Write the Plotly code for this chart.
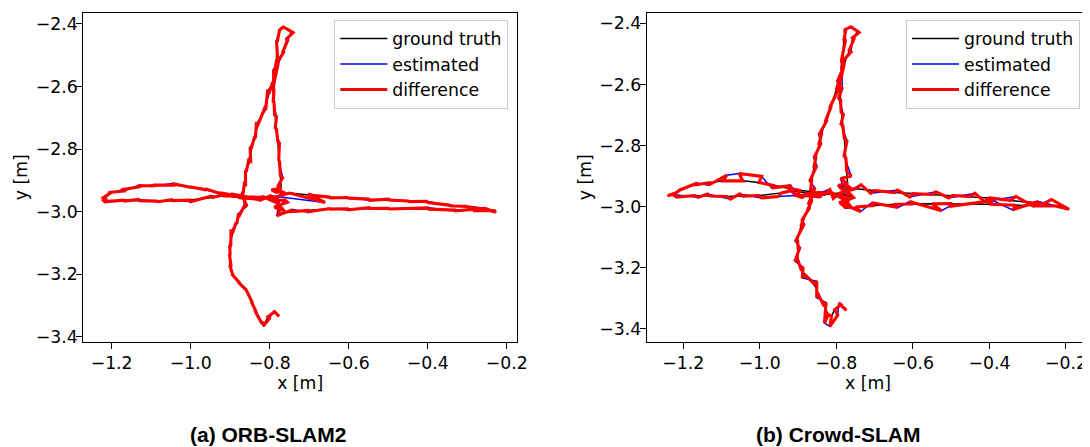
import plotly.graph_objects as go

# Ground-truth trajectory (shared by both runs), metres
GT_X = [
    -0.7793, -0.7876, -0.8045, -0.8129, -0.8212, -0.8338, -0.8465, -0.8591, -0.8803, -0.8929,
    -0.9013, -0.9000, -0.9013, -0.8929, -0.8850, -0.8760, -0.8634, -0.8677, -0.8640, -0.8591,
    -0.8530, -0.8465, -0.8380, -0.8298, -0.8129, -0.8003, -0.7919, -0.7870, -0.7833, -0.7808,
    -0.7750, -0.7624, -0.7455, -0.7540, -0.7667, -0.7793, -0.7919, -0.7890, -0.7876, -0.7830,
    -0.7793, -0.7750, -0.7730, -0.7707,
    -0.7950, -0.7600, -0.7900, -0.7550, -0.7880, -0.7620, -0.7820,
    -0.8150, -0.8508, -0.8929,
    -0.9265, -0.9601, -1.0023, -1.0444, -1.0949, -1.1285, -1.1707, -1.2043, -1.2212, -1.2169,
    -1.1707, -1.1300, -1.0864, -1.0450, -1.0023, -0.9434, -0.9182, -0.8760, -0.8300, -0.7900,
    -0.7497, -0.7000, -0.6487, -0.6000, -0.5500, -0.4972, -0.4500, -0.4000, -0.3457, -0.3000,
    -0.2600, -0.2278, -0.2800, -0.3288, -0.4000, -0.4972, -0.5500, -0.6000, -0.6487, -0.7000,
    -0.7497, -0.7750, -0.7800,
]
GT_Y = [
    -3.3312, -3.3206, -3.3366, -3.3578, -3.3526, -3.3206, -3.2886, -3.2512, -3.2246, -3.2032,
    -3.1712, -3.1400, -3.1072, -3.0646, -3.0350, -3.0112, -2.9792, -2.9472, -2.9100, -2.8726,
    -2.8350, -2.7978, -2.7600, -2.7232, -2.6698, -2.6166, -2.5846, -2.5500, -2.5206, -2.4566,
    -2.4192, -2.4118, -2.4246, -2.4512, -2.4886, -2.5312, -2.6058, -2.6500, -2.6912, -2.7350,
    -2.7766, -2.8406, -2.8850, -2.9258,
    -2.9300, -2.9420, -2.9560, -2.9700, -2.9850, -3.0000, -2.9700,
    -2.9560, -2.9526, -2.9472,
    -2.9398, -2.9312, -2.9206, -2.9152, -2.9152, -2.9206, -2.9290, -2.9418, -2.9560, -2.9686,
    -2.9632, -2.9650, -2.9664, -2.9650, -2.9632, -2.9546, -2.9472, -2.9560, -2.9600, -2.9550,
    -2.9408, -2.9470, -2.9536, -2.9570, -2.9600, -2.9632, -2.9660, -2.9710, -2.9792, -2.9850,
    -2.9920, -2.9974, -2.9970, -2.9952, -2.9920, -2.9898, -2.9900, -2.9910, -2.9920, -2.9960,
    -3.0006, -3.0048, -2.9700,
]

# Position error of the estimate at each pose, millimetres
ORB_DX_MM = [
    3, -2, 4, -3, 2, -4, 3, -2, 5, -3,
    4, -2, 3, -5, 2, -3, 6, -4, 3, -2,
    5, -3, 2, -4, 3, -5, 2, -3, 4, -2,
    3, -4, 5, -3, 2, -4, 3, -2, 5, -3,
    4, -2, 6, -8,
    10, -9, 7, -6, 8, -7, 6,
    -4, 3, -5,
    2, -3, 4, -2, 3, -4, 2, -3, 5, -4,
    3, -2, 4, -3, 2, -5, 3, -4, 6, -8,
    90, -3, 2, -4, 3, -2, 4, -3, 5, -2,
    4, -3, 2, -4, 3, -2, 4, -3, 2, -6,
    8, -7, 5,
]
ORB_DY_MM = [
    -4, 3, -5, -8, -6, 4, -3, 5, -4, 3,
    -5, 4, -3, 2, -4, 5, -3, 4, -2, 5,
    -3, 4, -5, 3, -4, 2, -3, 5, -2, 4,
    3, 2, -3, 4, -2, 3, -4, 2, -5, 3,
    -4, 5, -7, 9,
    -8, 6, -9, 7, -6, 8, -5,
    5, -3, 4,
    -3, 4, -2, 5, -3, 4, -5, 3, -4, 5,
    -3, 4, -2, 3, -5, 4, -3, 5, -4, 6,
    -30, 4, -3, 2, -4, 3, -2, 4, -3, 2,
    3, -4, 5, -3, 4, -2, 3, -4, 2, -5,
    7, -9, 6,
]
CROWD_DX_MM = [
    5, -6, 8, -4, -10, 7, -5, 8, -9, 6,
    -7, 5, -6, 9, -6, 7, -10, 12, -6, 8,
    -6, 7, -8, 6, -5, 8, -6, 5, -4, 5,
    -5, 3, 5, -4, 5, -6, 7, -5, 6, -5,
    7, -5, 12, -18,
    16, -15, 18, -14, 15, -16, 12,
    -9, 10, -12,
    8, -9, 7, -10, 8, -6, 7, -9, -20, -12,
    9, -7, 10, -8, 7, -9, 12, -14, 13, -18,
    14, -10, 9, -8, 10, -9, 12, -13, 15, 18,
    22, 36, 8, -11, 9, -8, 25, -9, 10, -8,
    13, -16, 14,
]
CROWD_DY_MM = [
    -8, 6, -18, -34, -28, 7, -9, 7, -8, 6,
    -7, 8, -6, 9, -11, 10, -13, 9, -7, 7,
    -6, 7, -5, 7, -7, 6, -7, 5, -5, 4,
    -3, 2, -5, 4, -5, 5, -6, 5, -7, 6,
    -8, 7, -14, 18,
    -22, 15, -20, 18, -16, 20, -14,
    11, -15, -14,
    9, -7, 20, 24, 18, -9, 7, -6, -8, 9,
    -6, 7, -9, 7, -8, -12, -16, -14, 16, -18,
    13, -9, 8, -11, 9, -8, 10, -12, 13, -15,
    16, -11, 14, -15, 12, -9, -23, 8, -10, 9,
    -15, 18, -13,
]

TICKS_X = [-1.2, -1.0, -0.8, -0.6, -0.4, -0.2]
TICKS_Y = [-2.4, -2.6, -2.8, -3.0, -3.2, -3.4]
CAPTIONS = ["(a) ORB-SLAM2", "(b) Crowd-SLAM"]
LEGEND_NAMES = ["ground truth", "estimated", "difference"]

FONT = "DejaVu Sans"
FS = 17.3

# page has an 8px body margin; the figure is sized to fit the window
W, H, OFF = 1082, 439, 8


def fx(px):
    return (px - OFF) / W


def fy(py):
    return 1 - (py - OFF) / H


def estimate(dx_mm, dy_mm):
    ex = [g + d / 1000.0 for g, d in zip(GT_X, dx_mm)]
    ey = [g + d / 1000.0 for g, d in zip(GT_Y, dy_mm)]
    return ex, ey


def difference_path(ex, ey):
    # gt->estimate connectors, chained into one polyline
    dx, dy = [], []
    for i in range(len(GT_X)):
        if i % 2 == 0:
            dx += [GT_X[i], ex[i]]
            dy += [GT_Y[i], ey[i]]
        else:
            dx += [ex[i], GT_X[i]]
            dy += [ey[i], GT_Y[i]]
    return dx, dy


fig = go.Figure()

runs = [
    (ORB_DX_MM, ORB_DY_MM, "x", "y", "legend"),
    (CROWD_DX_MM, CROWD_DY_MM, "x2", "y2", "legend2"),
]
for dxm, dym, xa, ya, lg in runs:
    ex, ey = estimate(dxm, dym)
    dfx, dfy = difference_path(ex, ey)
    fig.add_trace(go.Scatter(x=GT_X, y=GT_Y, mode="lines", name=LEGEND_NAMES[0],
                             line=dict(color="black", width=1.5), xaxis=xa, yaxis=ya, legend=lg))
    fig.add_trace(go.Scatter(x=ex, y=ey, mode="lines", name=LEGEND_NAMES[1],
                             line=dict(color="blue", width=1.5), xaxis=xa, yaxis=ya, legend=lg))
    fig.add_trace(go.Scatter(x=dfx, y=dfy, mode="lines", name=LEGEND_NAMES[2],
                             line=dict(color="red", width=3.1), xaxis=xa, yaxis=ya, legend=lg))

axis_common = dict(
    showgrid=False, zeroline=False, showline=True, mirror=True,
    linecolor="black", linewidth=1, ticks="outside", ticklen=6, tickwidth=1,
    tickcolor="black", tickfont=dict(family=FONT, size=FS, color="black"),
    tickformat=".1f", automargin=False,
)
xtitle = dict(text="x [m]", standoff=2, font=dict(family=FONT, size=FS, color="black"))
ytitle = dict(text="y [m]", standoff=3, font=dict(family=FONT, size=FS, color="black"))
legend_common = dict(yanchor="top", xanchor="right", itemwidth=47,
                     bgcolor="rgba(255,255,255,0.8)", bordercolor="#cccccc", borderwidth=1,
                     font=dict(family=FONT, size=FS, color="black"))

fig.update_layout(
    width=W, height=H,
    margin=dict(l=0, r=0, t=0, b=0),
    paper_bgcolor="white", plot_bgcolor="white",
    font=dict(family=FONT, size=FS, color="black"),
    xaxis=dict(domain=[fx(83.3), fx(517)], range=[-1.2717, -0.174], tickvals=TICKS_X,
               title=xtitle, anchor="y", **axis_common),
    yaxis=dict(domain=[fy(341.7), fy(12.7)], range=[-3.416, -2.364], tickvals=TICKS_Y,
               title=ytitle, anchor="x", ticklabelstandoff=-5, **axis_common),
    xaxis2=dict(domain=[fx(646.7), fx(1089.3)], range=[-1.2957, -0.139], tickvals=TICKS_X,
                title=xtitle, anchor="y2", **axis_common),
    yaxis2=dict(domain=[fy(341.7), fy(12.7)], range=[-3.4416, -2.365], tickvals=TICKS_Y,
                title=ytitle, anchor="x2", ticklabelstandoff=-5, **axis_common),
    legend=dict(x=fx(508.3), y=fy(19.7), **legend_common),
    legend2=dict(x=fx(1080), y=fy(19.7), **legend_common),
    showlegend=True,
)

for cpx, cap in zip([268.3, 838], CAPTIONS):
    fig.add_annotation(x=fx(cpx), y=fy(434), xref="paper", yref="paper",
                       text="<b>" + cap + "</b>", showarrow=False,
                       font=dict(family="Liberation Sans", size=21, color="black"),
                       xanchor="center", yanchor="middle")

fig.write_html("out.html")
